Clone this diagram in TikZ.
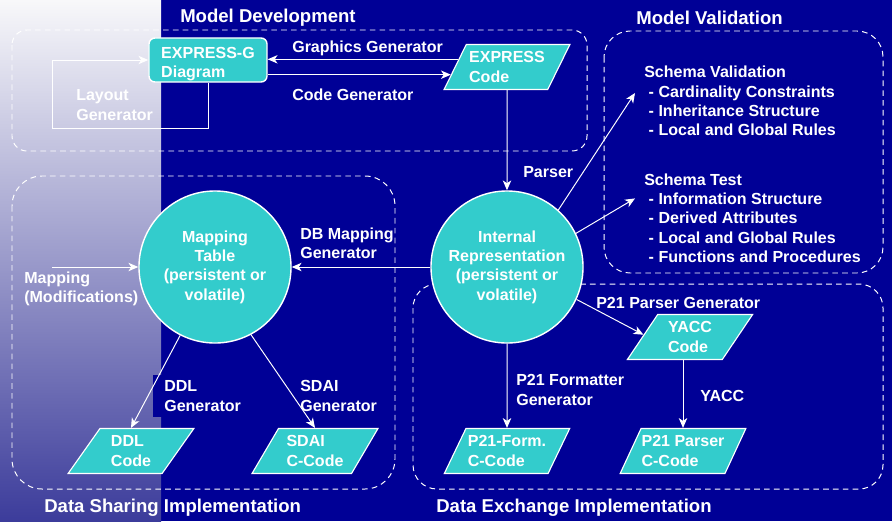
\documentclass[tikz,border=0pt]{standalone}
\usepackage{fontspec}
\setmainfont{Liberation Sans}
\usetikzlibrary{arrows.meta, positioning, shapes.geometric, calc}
\definecolor{BG}{RGB}{0,0,150}
\definecolor{TQ}{RGB}{51,204,204}
\definecolor{GT}{RGB}{248,248,250}
\definecolor{GB}{RGB}{60,60,155}

\begin{document}
\begin{tikzpicture}[x=0.025cm, y=-0.025cm,
  txt/.style={font=\fontsize{11.4}{13.7}\selectfont\bfseries, text=white, align=left, inner sep=0},
  ttl/.style={font=\fontsize{13.2}{15}\selectfont\bfseries, text=white, inner sep=0, anchor=west},
  lbl/.style={txt, anchor=west},
  grp/.style={draw=white, dash pattern=on 4pt off 3pt, line width=0.7pt, rounded corners=#1},
  arr/.style={draw=white, line width=0.7pt, -{Stealth[length=7pt,width=6pt,inset=2pt]}},
  store/.style={circle, draw=white, line width=1pt, fill=TQ, minimum size=3.8cm, txt, align=center},
  diag/.style={rectangle, rounded corners=0.15cm, draw=white, line width=1pt, fill=TQ,
    minimum width=2.95cm, minimum height=1.1cm, txt, text height=28pt},
  code/.style={trapezium, trapezium left angle=56, trapezium right angle=124,
    trapezium stretches=true, draw=white, line width=0.8pt, fill=TQ,
    minimum width=3.15cm, minimum height=1.125cm, txt}
]
% background
\fill[BG] (0,0) rectangle (892,521);
\shade[top color=GT, bottom color=GB] (0,0) rectangle (161,521);
\useasboundingbox (0,0) rectangle (892,521);

% group frames
\draw[grp=0.375cm] (12,30) rectangle (587,151);
\draw[grp=0.75cm] (12,176) rectangle (395,489);
\draw[grp=0.65cm] (604,31) rectangle (883,273);
\draw[grp=0.6cm] (413,284) rectangle (883,489);

% titles
\node[ttl] (tdev) at (180,18) {Model Development};
\node[ttl] (tval) at (636,18) {Model Validation};
\node[ttl] (tshare) at (44,508) {Data Sharing Implementation};
\node[ttl] (texch) at (436,508) {Data Exchange Implementation};

% shapes
\node[diag] (xg) at (208,60) {EXPRESS-G\\Diagram};
\node[code] (xcode) at (507,67) {EXPRESS\\Code};
\node[store] (ir) at (507,267) {Internal\\Representation\\(persistent or\\volatile)};
\node[store] (mt) at (215,267) {Mapping\\Table\\(persistent or\\volatile)};
\node[code] (ddl) at (131,451) {DDL\\Code};
\node[code] (sdai) at (315,451) {SDAI\\C-Code};
\node[code] (p21f) at (507,451) {P21-Form.\\C-Code};
\node[code] (yacc) at (690,337) {YACC\\Code};
\node[code] (p21p) at (683,451) {P21 Parser\\C-Code};

% validation lists
\node[lbl] (sval) at (644,101) {Schema Validation\\\ - Cardinality Constraints\\\ - Inheritance Structure\\\ - Local and Global Rules};
\node[lbl] (stest) at (644,218) {Schema Test\\\ - Information Structure\\\ - Derived Attributes\\\ - Local and Global Rules\\\ - Functions and Procedures};

% model development
\coordinate (g1) at ($(xcode.top left corner)!1/3!(xcode.bottom left corner)$);
\coordinate (g2) at ($(xcode.top left corner)!2/3!(xcode.bottom left corner)$);
\draw[arr] (g1) -- (g1 -| xg.east);
\draw[arr] (g2 -| xg.east) -- (g2);
\node[lbl] (lgg) at (292,48) {Graphics Generator};
\node[lbl] (lcg) at (292,95) {Code Generator};
\draw[arr] (xg.south) -- ++(0,46) -| (52,60) -- (xg.west);
\node[lbl] (llg) at (76,105) {Layout\\Generator};
\draw[arr] (xcode.south) -- (ir.north);
\node[lbl] (lpa) at (523,172) {Parser};

% model validation
\draw[arr] (ir.48) -- ([shift={(-0.225cm,0.2cm)}]sval.west);
\draw[arr] (ir.26) -- ([shift={(-0.225cm,0.49cm)}]stest.west);

% data sharing
\draw[arr] (ir.west) -- (mt.east);
\node[lbl] (ldb) at (300,243) {DB Mapping\\Generator};
\coordinate (min) at (52,267);
\draw[arr] (min) -- (mt.west);
\node[lbl] (lmm) at (24,289) {Mapping\\(Modifications)};
\node[lbl, fill=BG, inner xsep=0.275cm, inner ysep=0.15cm] (lddl) at (153,396) {DDL\\Generator};
\draw[arr] (mt.-117) -- (ddl.north);
\draw[arr] (mt.-62) -- (sdai.north);
\node[lbl] (lsdai) at (300,396) {SDAI\\Generator};

% data exchange
\draw[arr] (ir.south) -- (p21f.north);
\node[lbl] (lp21f) at (516,390) {P21 Formatter\\Generator};
\draw[arr] (ir.-25) -- ($(yacc.top left corner)!0.45!(yacc.bottom left corner)$);
\node[lbl] (lp21p) at (596,303) {P21 Parser Generator};
\draw[arr] (yacc.south -| p21p.north) -- (p21p.north);
\node[lbl] (lyacc) at (700,396) {YACC};
\end{tikzpicture}
\end{document}
